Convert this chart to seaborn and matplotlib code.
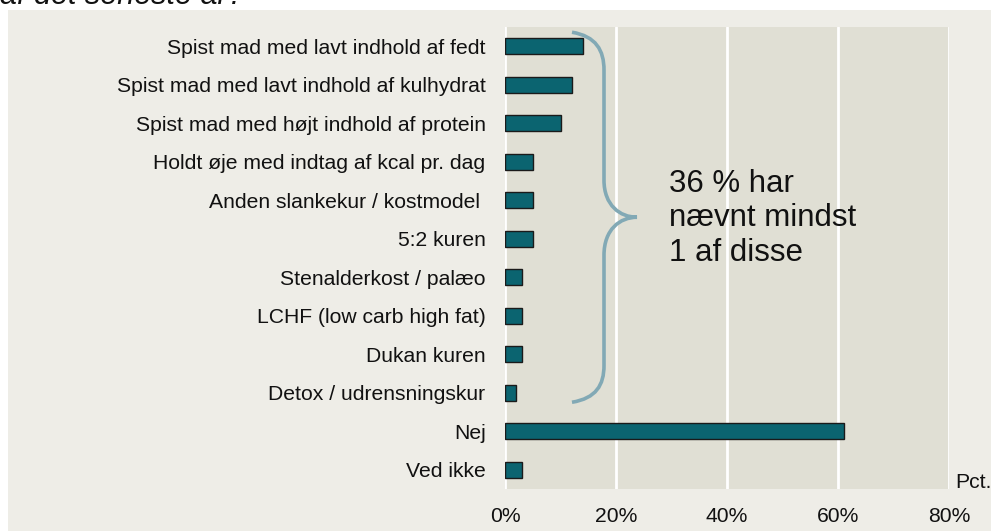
import numpy as np
import pandas as pd
import matplotlib
matplotlib.use("Agg")
import matplotlib.pyplot as plt
import seaborn as sns
from matplotlib.path import Path
from matplotlib.patches import PathPatch

# ======================== data ========================
labels = [
    "Spist mad med lavt indhold af fedt",
    "Spist mad med lavt indhold af kulhydrat",
    "Spist mad med højt indhold af protein",
    "Holdt øje med indtag af kcal pr. dag",
    "Anden slankekur / kostmodel ",
    "5:2 kuren",
    "Stenalderkost / palæo",
    "LCHF (low carb high fat)",
    "Dukan kuren",
    "Detox / udrensningskur",
    "Nej",
    "Ved ikke",
]
values = [14, 12, 10, 5, 5, 5, 3, 3, 3, 2, 61, 3]
x_ticks = [0, 20, 40, 60, 80]
x_ticklabels = ["0%", "20%", "40%", "60%", "80%"]

PANEL_BG = "#eeede7"
PLOT_BG = "#e0dfd4"
BAR_COLOR = "#0b6470"
BRACE_COLOR = "#82a9b5"
FS = 15.2

sns.set_theme(style="white")
plt.rcParams['font.family'] = ['Liberation Sans', 'DejaVu Sans']

fig = plt.figure(figsize=(9.91, 5.31), dpi=100, facecolor="white")
# beige panel behind the chart
fig.patches.append(plt.Rectangle((8 / 991, 0), 1, 1 - 10 / 531, transform=fig.transFigure,
                                 facecolor=PANEL_BG, edgecolor="none", zorder=-10))

ax = fig.add_axes([505 / 991, 1 - 489 / 531, 444 / 991, 462 / 531])
ax.set_zorder(1)
ax.set_facecolor(PLOT_BG)

df = pd.DataFrame({"label": labels, "value": values})
sns.barplot(data=df, x="value", y="label", orient="h", color=BAR_COLOR, saturation=1,
            width=0.42, edgecolor="#1a1a1a", linewidth=1, ax=ax, zorder=3)

ax.set_xlim(0, 80)
ax.set_ylim(len(labels) - 0.5, -0.5)
ax.set_xticks(x_ticks)
ax.set_xticklabels(x_ticklabels)
ax.set_xlabel("")
ax.set_ylabel("")
for x in x_ticks:
    ax.axvline(x, color="white", lw=2, zorder=1)
for s in ax.spines.values():
    s.set_visible(False)
ax.tick_params(axis="both", length=0, labelsize=FS, colors="#111111")
ax.tick_params(axis="y", pad=14)
ax.tick_params(axis="x", pad=13)

# curly brace
def px(x, y):
    return ((x - 505) / 5.55, (y - 46) / 38.5)

pts = [(572, 32), (596, 36), (604, 50), (604, 70),
       (604, 180),
       (604, 205), (620, 217), (637, 217),
       (620, 217), (604, 229), (604, 255),
       (604, 365),
       (604, 385), (596, 398), (572, 402)]
codes = [Path.MOVETO, Path.CURVE4, Path.CURVE4, Path.CURVE4,
         Path.LINETO,
         Path.CURVE4, Path.CURVE4, Path.CURVE4,
         Path.CURVE4, Path.CURVE4, Path.CURVE4,
         Path.LINETO,
         Path.CURVE4, Path.CURVE4, Path.CURVE4]
brace = PathPatch(Path([px(*p) for p in pts], codes), facecolor="none",
                  edgecolor=BRACE_COLOR, lw=2.6, capstyle="butt", zorder=4, clip_on=False)
ax.add_patch(brace)

ax.text(*px(669, 218), "36 % har\nnævnt mindst\n1 af disse", fontsize=22.5,
        va="center", ha="left", linespacing=1.2, color="#111111", zorder=5)

fig.text(955 / 991, 1 - 482 / 531, "Pct.", fontsize=FS, ha="left", va="center", color="#111111")
fig.text(0, 1 - 4 / 531, "af det seneste år?", fontsize=22, style="italic",
         ha="left", va="baseline", color="#111111")

fig.savefig("out.png", dpi=100, facecolor="white")
